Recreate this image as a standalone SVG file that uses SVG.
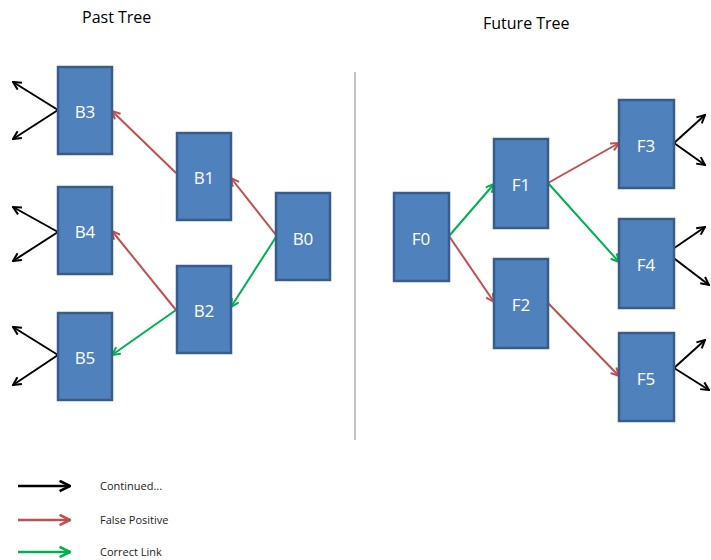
<svg xmlns="http://www.w3.org/2000/svg" width="711" height="560" viewBox="0 0 711 560">
<style>
.node rect{fill:#4F81BD;stroke:#385D8A;stroke-width:2.5}
.node text{fill:#fff;font-family:"Open Sans","Liberation Sans",sans-serif;font-size:17px;text-anchor:middle;dominant-baseline:central}
.title{font-family:"Open Sans","Liberation Sans",sans-serif;font-size:16px;fill:#000}
.leg{font-family:"Open Sans","Liberation Sans",sans-serif;font-size:11px;fill:#222}
.k{stroke:#000;stroke-width:2;fill:none;marker-end:url(#mk)}
.r{stroke:#C0504D;stroke-width:2;fill:none;marker-end:url(#mr)}
.g{stroke:#00B050;stroke-width:2;fill:none;marker-end:url(#mg)}
.lw{stroke-width:2.6}
</style>
<defs>
<marker id="mk" viewBox="0 0 10 10" refX="9" refY="5" markerWidth="5" markerHeight="5" orient="auto" markerUnits="strokeWidth"><path d="M1,1 L9,5 L1,9" fill="none" stroke="#000" stroke-width="2"/></marker>
<marker id="mr" viewBox="0 0 10 10" refX="9" refY="5" markerWidth="5" markerHeight="5" orient="auto" markerUnits="strokeWidth"><path d="M1,1 L9,5 L1,9" fill="none" stroke="#C0504D" stroke-width="2"/></marker>
<marker id="mg" viewBox="0 0 10 10" refX="9" refY="5" markerWidth="5" markerHeight="5" orient="auto" markerUnits="strokeWidth"><path d="M1,1 L9,5 L1,9" fill="none" stroke="#00B050" stroke-width="2"/></marker>
</defs>
<rect width="711" height="560" fill="#fff"/>
<text class="title" x="82" y="23">Past Tree</text>
<text class="title" x="483" y="29">Future Tree</text>
<line x1="355" y1="72" x2="355" y2="440" stroke="#888" stroke-width="1"/>
<g id="connectors">
<path class="k" d="M58,110 L13,82"/>
<path class="k" d="M58,110 L13,139"/>
<path class="k" d="M58,232 L13,207"/>
<path class="k" d="M58,232 L13,261"/>
<path class="k" d="M58,355 L13,327"/>
<path class="k" d="M58,355 L13,385"/>
<path class="r" d="M176,173 L112,111"/>
<path class="r" d="M276,235 L231,178"/>
<path class="g" d="M276,237 L231,307"/>
<path class="r" d="M176,310 L112,231"/>
<path class="g" d="M176,310 L112,355"/>
<path class="g" d="M449,236 L494,184"/>
<path class="r" d="M449,236 L494,302"/>
<path class="r" d="M548,183 L619,143"/>
<path class="g" d="M548,183 L619,262"/>
<path class="r" d="M548,303 L619,376"/>
<path class="k" d="M674,143 L705,115"/>
<path class="k" d="M674,143 L705,165"/>
<path class="k" d="M667,253 L705,227"/>
<path class="k" d="M667,253 L709,285"/>
<path class="k" d="M674,368 L705,340"/>
<path class="k" d="M674,368 L709,390"/>
<path class="k lw" d="M18,486 L70,486"/>
<path class="r lw" d="M18,520 L70,520"/>
<path class="g lw" d="M18,552 L70,552"/>
</g>
<g id="B3" class="node"><rect x="58" y="67" width="54" height="87"/><text x="85" y="111">B3</text></g>
<g id="B4" class="node"><rect x="58" y="187" width="54" height="87"/><text x="85" y="231">B4</text></g>
<g id="B5" class="node"><rect x="58" y="313" width="54" height="87"/><text x="85" y="357">B5</text></g>
<g id="B1" class="node"><rect x="177" y="133" width="54" height="87"/><text x="204" y="177">B1</text></g>
<g id="B2" class="node"><rect x="177" y="266" width="54" height="87"/><text x="204" y="310">B2</text></g>
<g id="B0" class="node"><rect x="276" y="193" width="54" height="87"/><text x="303" y="238">B0</text></g>
<g id="F0" class="node"><rect x="394" y="193" width="55" height="88"/><text x="421" y="238">F0</text></g>
<g id="F1" class="node"><rect x="494" y="139" width="54" height="89"/><text x="521" y="184">F1</text></g>
<g id="F2" class="node"><rect x="494" y="259" width="54" height="89"/><text x="521" y="304">F2</text></g>
<g id="F3" class="node"><rect x="619" y="100" width="55" height="88"/><text x="646" y="145">F3</text></g>
<g id="F4" class="node"><rect x="619" y="219" width="55" height="89"/><text x="646" y="264">F4</text></g>
<g id="F5" class="node"><rect x="619" y="333" width="55" height="88"/><text x="646" y="378">F5</text></g>
<g id="legend">
<text class="leg" x="100" y="490">Continued...</text>
<text class="leg" x="100" y="524">False Positive</text>
<text class="leg" x="100" y="556">Correct Link</text>
</g>
</svg>
